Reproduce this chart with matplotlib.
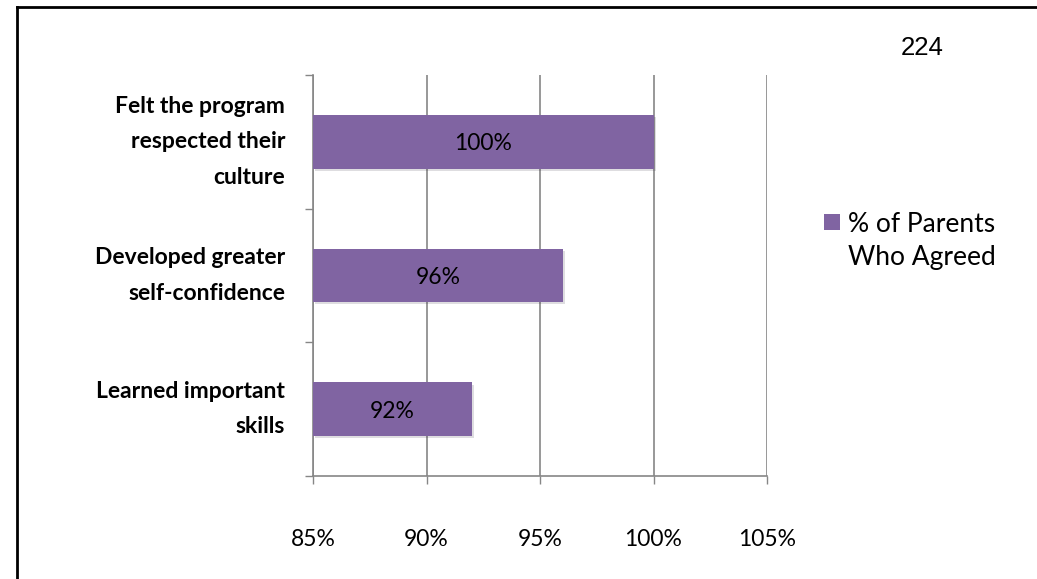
import matplotlib
matplotlib.use("Agg")
import matplotlib.pyplot as plt
import matplotlib.patheffects as pe
from matplotlib.lines import Line2D
from matplotlib.patches import Rectangle

categories = ["Learned important\nskills", "Developed greater\nself-confidence", "Felt the program\nrespected their\nculture"]
values = [92, 96, 100]
value_labels = ["92%", "96%", "100%"]
series_name = ["% of Parents", "Who Agreed"]
xticks = [85, 90, 95, 100, 105]
xtick_labels = ["85%", "90%", "95%", "100%", "105%"]
page_number = "224"

BAR = "#8064A2"
GRID = "#868686"
FONT = "Lato"

W, H = 1037, 579
fig = plt.figure(figsize=(W / 100, H / 100), dpi=100)
ax = fig.add_axes([313 / W, 1 - 476 / H, (767 - 313) / W, (476 - 75) / H])

ypos = list(range(len(categories)))
bars = ax.barh(ypos, [v - 85 for v in values], left=85, height=0.4, color=BAR, zorder=3,
               path_effects=[pe.SimplePatchShadow(offset=(1.5, -1.5), alpha=0.15), pe.Normal()])
for b, lab in zip(bars, value_labels):
    ax.text(b.get_x() + b.get_width() / 2, b.get_y() + b.get_height() / 2, lab,
            ha="center", va="center_baseline", fontsize=16.5, family=FONT, color="black", zorder=4)

ax.set_xlim(85, 105)
ax.set_ylim(-0.5, len(categories) - 0.5)
ax.set_xticks(xticks)
ax.set_xticklabels(xtick_labels, fontsize=16.5, family=FONT)
ax.set_yticks([y - 0.5 for y in range(len(categories) + 1)])
ax.set_yticklabels([])
ax.set_yticks(ypos, minor=True)
ax.set_yticklabels(categories, minor=True, fontsize=16.5, family=FONT, fontweight="bold",
                   linespacing=1.85, va="center")
ax.tick_params(axis="y", which="minor", length=0, pad=20)
ax.tick_params(axis="y", which="major", length=6, width=1, color=GRID, direction="out")
ax.tick_params(axis="x", length=6, width=1, color=GRID, direction="out", pad=32)
ax.grid(axis="x", color=GRID, linewidth=1.2, zorder=0)
ax.set_axisbelow(True)
for s in ["top", "right"]:
    ax.spines[s].set_visible(False)
for s in ["left", "bottom"]:
    ax.spines[s].set_color(GRID)
    ax.spines[s].set_linewidth(1.2)

# legend
fig.patches.append(Rectangle((824 / W, 1 - 230 / H), 16 / W, 16 / H, transform=fig.transFigure,
                             facecolor=BAR, edgecolor="none"))
fig.text(848 / W, 1 - 225 / H, series_name[0], ha="left", va="center", fontsize=19, family=FONT)
fig.text(848 / W, 1 - 258 / H, series_name[1], ha="left", va="center", fontsize=19, family=FONT)

fig.text(922 / W, 1 - 48 / H, page_number, ha="center", va="center", fontsize=18.5,
         family="Liberation Sans")

# page border (left and top)
fig.add_artist(Line2D([17 / W, 17 / W], [0, 1 - 7 / H], transform=fig.transFigure, color="black", lw=2))
fig.add_artist(Line2D([17 / W, 1], [1 - 7 / H, 1 - 7 / H], transform=fig.transFigure, color="black", lw=2))

fig.savefig("out.png", dpi=100, facecolor="white")
